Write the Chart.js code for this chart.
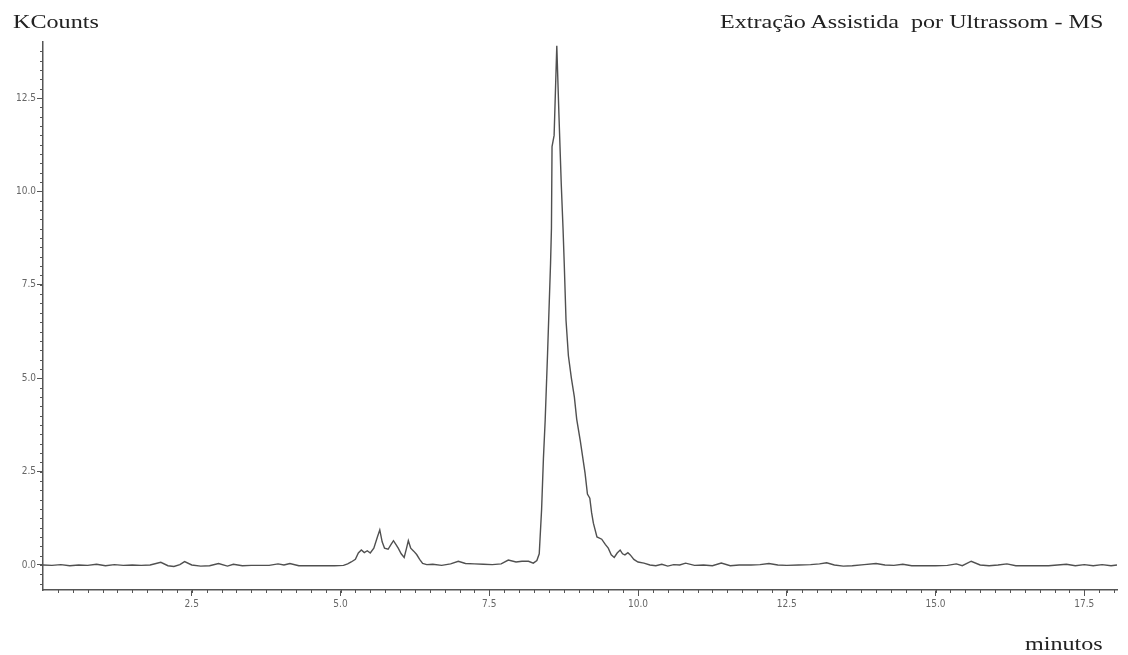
<!DOCTYPE html>
<html>
<head>
<meta charset="utf-8">
<script src="https://cdn.jsdelivr.net/npm/chart.js@4.4.0/dist/chart.umd.min.js"></script>
<style>
  body { margin: 0; background: #fff; }
  #wrap { position: relative; width: 1128px; height: 655px; }
  .lbl {
    position: absolute;
    font-family: "Liberation Serif", "Times New Roman", serif;
    font-size: 19px;
    line-height: 19px;
    color: #222;
    white-space: pre;
    transform-origin: 0 0;
    transform: scaleX(1.27);
  }
</style>
</head>
<body>
<div id="wrap">
  <canvas id="chart" width="1128" height="655"></canvas>
  <div class="lbl" style="left:13px;top:12px">KCounts</div>
  <div class="lbl" style="left:720px;top:12px">Extração Assistida  por Ultrassom - MS</div>
  <div class="lbl" style="left:1025px;top:634px">minutos</div>
</div>
<script>
// retention time (min) and signal (KCounts)
const times = [
  0.00, 0.15, 0.30, 0.45, 0.60, 0.75, 0.90, 1.05, 1.20, 1.35, 1.50, 1.65, 1.80, 1.98,
  2.10, 2.20, 2.30, 2.38, 2.50, 2.65, 2.80, 2.95, 3.10, 3.20, 3.35, 3.50, 3.65, 3.80,
  3.95, 4.05, 4.15, 4.30, 4.50, 4.70, 4.90, 5.05,
  5.12, 5.18, 5.25, 5.30, 5.35, 5.40, 5.45, 5.50, 5.56, 5.62, 5.66, 5.70, 5.74, 5.80,
  5.85, 5.89, 5.93, 5.97, 6.02, 6.07, 6.11, 6.14, 6.18, 6.23, 6.28, 6.33, 6.38, 6.45,
  6.55, 6.70, 6.85, 6.98, 7.10, 7.25, 7.40, 7.55, 7.70, 7.82, 7.95, 8.05, 8.16, 8.24,
  8.30, 8.34, 8.38, 8.41, 8.44, 8.48, 8.53, 8.545, 8.555, 8.59, 8.635, 8.67, 8.71, 8.74,
  8.76, 8.79, 8.83, 8.88, 8.93, 8.97, 9.03, 9.11, 9.15, 9.19, 9.22, 9.25, 9.31, 9.39,
  9.45, 9.50, 9.55, 9.60, 9.65, 9.70, 9.74, 9.78, 9.83, 9.87, 9.93, 10.00, 10.10, 10.20,
  10.30, 10.40, 10.50, 10.60, 10.70, 10.80, 10.95, 11.10, 11.25, 11.40, 11.55, 11.70, 11.90,
  12.05, 12.20, 12.35, 12.50, 12.70, 12.90, 13.05, 13.17, 13.30, 13.45, 13.60, 13.80,
  14.00, 14.15, 14.30, 14.45, 14.60, 14.80, 15.00, 15.20, 15.35, 15.45, 15.60, 15.75,
  15.90, 16.05, 16.20, 16.35, 16.50, 16.70, 16.90, 17.05, 17.20, 17.35, 17.50, 17.65,
  17.80, 17.95, 18.05
];
const kcounts = [
  0.00, -0.01, 0.01, -0.02, 0.00, -0.01, 0.02, -0.02, 0.01, -0.01, 0.00, -0.01, 0.00, 0.07,
  -0.02, -0.04, 0.01, 0.09, 0.00, -0.03, -0.02, 0.04, -0.03, 0.02, -0.02, -0.01, -0.01, -0.01,
  0.03, 0.00, 0.04, -0.02, -0.02, -0.02, -0.02, -0.01,
  0.03, 0.08, 0.15, 0.32, 0.40, 0.33, 0.38, 0.32, 0.45, 0.75, 0.94, 0.62, 0.45, 0.42,
  0.55, 0.65, 0.55, 0.45, 0.30, 0.20, 0.45, 0.65, 0.45, 0.37, 0.28, 0.15, 0.04, 0.01,
  0.02, -0.01, 0.03, 0.10, 0.04, 0.03, 0.02, 0.01, 0.03, 0.13, 0.08, 0.10, 0.10, 0.05,
  0.12, 0.30, 1.50, 2.84, 3.88, 5.67, 8.07, 9.00, 11.20, 11.50, 13.90, 12.10, 10.20, 9.00,
  8.07, 6.55, 5.60, 5.00, 4.50, 3.90, 3.32, 2.46, 1.90, 1.79, 1.40, 1.12, 0.75, 0.69,
  0.55, 0.45, 0.27, 0.20, 0.32, 0.40, 0.30, 0.27, 0.33, 0.27, 0.15, 0.08, 0.05, 0.00,
  -0.02, 0.02, -0.03, 0.01, 0.00, 0.05, -0.01, 0.00, -0.02, 0.05, -0.02, 0.00, 0.00,
  0.01, 0.04, 0.00, -0.01, 0.00, 0.01, 0.03, 0.06, 0.00, -0.03, -0.02, 0.01,
  0.04, 0.00, -0.01, 0.02, -0.02, -0.02, -0.02, -0.01, 0.03, -0.02, 0.10, 0.00,
  -0.02, 0.00, 0.03, -0.02, -0.02, -0.02, -0.02, 0.00, 0.02, -0.02, 0.01, -0.02,
  0.01, -0.02, 0.00
];
const xTicks = [2.5, 5.0, 7.5, 10.0, 12.5, 15.0, 17.5];
const yTicks = [0.0, 2.5, 5.0, 7.5, 10.0, 12.5];

const axisColor = '#555';
const tickFont = { family: '"DejaVu Sans Condensed", "DejaVu Sans", sans-serif', size: 10 };

// small minor ticks every 0.25 between the labelled ones
const minorTicks = {
  id: 'minorTicks',
  afterDraw(chart) {
    const { ctx, scales: { x, y } } = chart;
    ctx.save();
    ctx.strokeStyle = axisColor;
    ctx.lineWidth = 1;
    ctx.beginPath();
    for (let v = 0.25; v < x.max; v += 0.25) {
      const px = Math.round(x.getPixelForValue(v)) + 0.5;
      ctx.moveTo(px, x.top);
      ctx.lineTo(px, x.top + 3);
    }
    for (let v = -0.5; v < y.max; v += 0.25) {
      const py = Math.round(y.getPixelForValue(v)) + 0.5;
      ctx.moveTo(y.right - 3, py);
      ctx.lineTo(y.right, py);
    }
    ctx.stroke();
    ctx.restore();
  }
};

new Chart(document.getElementById('chart').getContext('2d'), {
  type: 'line',
  data: {
    datasets: [{
      data: times.map((t, i) => ({ x: t, y: kcounts[i] })),
      borderColor: '#505050',
      borderWidth: 1.4,
      pointRadius: 0,
      tension: 0,
      fill: false
    }]
  },
  options: {
    responsive: false,
    animation: false,
    devicePixelRatio: 1,
    layout: { padding: { left: 0, top: 42, right: 11, bottom: 0 } },
    plugins: { legend: { display: false }, tooltip: { enabled: false } },
    scales: {
      x: {
        type: 'linear',
        min: 0,
        max: 18.05,
        afterFit: s => { s.height = 65; },
        afterBuildTicks: s => { s.ticks = xTicks.map(v => ({ value: v })); },
        border: { color: axisColor, width: 1.5 },
        grid: { drawOnChartArea: false, tickLength: 6, color: axisColor },
        ticks: {
          autoSkip: false, maxRotation: 0, padding: 2,
          color: '#666', font: tickFont,
          callback: v => Number(v).toFixed(1)
        }
      },
      y: {
        min: -0.67,
        max: 14.0,
        afterFit: s => { s.width = 43; },
        afterBuildTicks: s => { s.ticks = yTicks.map(v => ({ value: v })); },
        border: { color: axisColor, width: 1.5 },
        grid: { drawOnChartArea: false, tickLength: 6, color: axisColor },
        ticks: {
          padding: 1,
          color: '#666', font: tickFont,
          callback: v => Number(v).toFixed(1)
        }
      }
    }
  },
  plugins: [minorTicks]
});
</script>
</body>
</html>
